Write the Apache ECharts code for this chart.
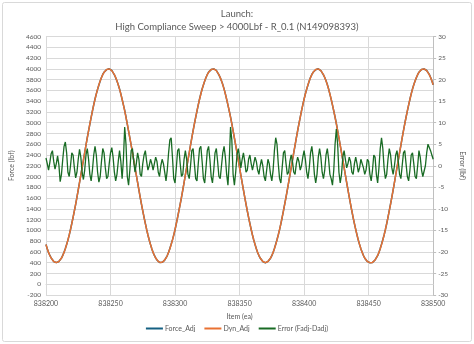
<!DOCTYPE html>
<html>
<head>
<meta charset="utf-8">
<script src="https://cdn.jsdelivr.net/npm/echarts@6/dist/echarts.min.js"></script>
<style>
  html, body { margin: 0; padding: 0; background: #ffffff; }
  #chart { width: 474px; height: 344px; }
</style>
</head>
<body>
<div id="chart"></div>
<script>
// Sample index starts at this item number; one sample per item.
const firstItem = 838200;

// Axis ticks
const xTicks = [838200, 838250, 838300, 838350, 838400, 838450, 838500];
const forceTicks = { min: -200, max: 4600, step: 200 };
const errorTicks = { min: -30, max: 30, step: 5 };

// Dyn_Adj (lbf), one value per item
const dynAdj = [
  736, 659, 591, 534, 486, 449, 422, 405,
  400, 405, 422, 449, 486, 534, 591, 659, 736, 821, 915, 1016, 1125, 1240, 1361, 1487, 1617, 1751, 1887, 2026, 2165, 2305, 2444, 2581, 2716, 2848, 2976, 3100, 3218, 3330, 3435, 3533, 3623, 3704, 3776, 3839, 3891, 3934, 3966, 3988, 3999,
  3999, 3988, 3966, 3934, 3891, 3839, 3776, 3704, 3623, 3533, 3435, 3330, 3218, 3100, 2976, 2848, 2716, 2581, 2444, 2305, 2165, 2026, 1887, 1751, 1617, 1487, 1361, 1240, 1125, 1016, 915, 821, 736, 659, 591, 534, 486, 449, 422, 405,
  400, 405, 422, 449, 486, 534, 591, 659, 736, 821, 915, 1016, 1125, 1240, 1361, 1487, 1617, 1751, 1887, 2026, 2165, 2305, 2444, 2581, 2716, 2848, 2976, 3100, 3218, 3330, 3435, 3533, 3623, 3704, 3776, 3839, 3891, 3934, 3966, 3988, 3999,
  3999, 3988, 3966, 3934, 3891, 3839, 3776, 3704, 3623, 3533, 3435, 3330, 3218, 3100, 2976, 2848, 2716, 2581, 2444, 2305, 2165, 2026, 1887, 1751, 1617, 1487, 1361, 1240, 1125, 1016, 915, 821, 736, 659, 591, 534, 486, 449, 422, 405,
  400, 405, 422, 449, 486, 534, 591, 659, 736, 821, 915, 1016, 1125, 1240, 1361, 1487, 1617, 1751, 1887, 2026, 2165, 2305, 2444, 2581, 2716, 2848, 2976, 3100, 3218, 3330, 3435, 3533, 3623, 3704, 3776, 3839, 3891, 3934, 3966, 3988, 3999,
  3999, 3988, 3966, 3934, 3891, 3839, 3776, 3704, 3623, 3533, 3435, 3330, 3218, 3100, 2976, 2848, 2716, 2581, 2444, 2305, 2165, 2026, 1887, 1751, 1617, 1487, 1361, 1240, 1125, 1016, 915, 821, 736, 659, 591, 534, 486, 449, 422, 405,
  401,
  400, 405, 422, 449, 486, 534, 591, 659, 736, 821, 915, 1016, 1125, 1240, 1361, 1487, 1617, 1751, 1887, 2026, 2165, 2305, 2444, 2581, 2716, 2848, 2976, 3100, 3218, 3330, 3435, 3533, 3623, 3704, 3776, 3839, 3891, 3934, 3966, 3988, 3999,
  3999, 3988, 3966, 3934, 3891, 3839, 3776, 3704
];

// Error (Fadj-Dadj) in lbf, one value per item
const errAdj = [
  1.8, 0.5, -1.0, 0.8, 2.8, 3.5, 1.0, -0.8, 0.5, 2.3,
  0.2, -3.7, -2.0, 1.5, 4.5, 5.5, 3.0, -1.5, -2.5, 0.0,
  3.0, 2.5, -0.5, -2.8, -1.5, 1.5, 3.8, 2.0, -1.5, -3.2,
  -1.0, 2.5, 4.0, 1.5, -2.0, -3.5, -1.0, 2.5, 4.5, 2.5,
  -1.5, -3.8, -2.5, 1.0, 4.0, 3.0, -0.5, -3.0, -2.5, 0.5,
  3.0, 4.2, 2.0, -1.5, -3.5, -2.0, 1.0, 3.5, 1.0, -3.0,
  1.5, 9.0, 5.0, -2.5, -4.5, -1.0, 3.5, 4.0, 1.0, -1.5,
  0.5, 3.0, 1.5, -2.0, -2.5, 0.5, 2.5, 3.5, 1.0, -1.0,
  0.0, 1.5, 0.5, -1.0, 0.5, 2.0, 1.0, -1.5, -2.5, 0.0,
  1.5, 0.5, -1.5, -3.5, -1.0, 3.0, 6.0, 6.5, 2.0, -3.0,
  -4.0, -0.5, 3.5, 4.0, 0.5, -2.5, -2.0, 1.5, 3.5, 1.5,
  -2.0, -3.0, 0.0, 3.5, 4.0, 0.5, -3.0, -3.5, 0.5, 4.0,
  4.5, 1.0, -3.0, -4.0, -0.5, 3.5, 4.5, 1.5, -2.5, -4.0,
  -1.0, 3.0, 4.0, 1.0, -2.5, -3.0, 0.0, 3.0, 4.5, 2.0,
  -2.0, -4.5, 1.0, 9.0, 6.0, -2.0, -4.5, -1.5, 2.5, 4.0,
  2.0, -0.5, 1.5, 3.0, 1.0, -1.5, -1.0, 1.5, 2.5, 0.5,
  -1.0, 0.5, 2.0, 1.0, -1.0, -2.0, 0.0, 1.5, 0.0, -2.5,
  -3.5, -1.0, 1.5, 0.5, -2.0, -3.5, -1.0, 3.5, 6.5, 5.0,
  0.5, -3.0, -4.0, -0.5, 3.0, 3.5, 0.5, -2.0, -1.5, 1.0,
  2.5, 1.0, -1.5, -2.0, 0.5, 2.0, 1.0, -1.0, 0.0, 2.0,
  3.5, 1.5, -1.5, -3.0, -0.5, 3.0, 4.5, 2.0, -2.0, -4.0,
  -2.0, 2.0, 4.0, 2.0, -1.5, -3.0, -1.0, 2.5, 4.0, 1.5,
  -2.0, -3.0, -4.5, -1.0, 5.0, 8.5, 5.0, -1.5, -4.0, -2.0,
  2.0, 3.5, 1.5, -0.5, 0.5, 2.0, 1.0, -1.5, -2.0, 0.5,
  2.0, 0.5, -1.5, -0.5, 1.5, 1.5, -0.5, -2.0, -1.0, 1.5,
  1.0, -2.0, -3.5, -1.0, 2.5, 2.0, -2.0, -4.0, -0.5, 4.0,
  6.5, 4.0, -0.5, -3.0, -2.0, 1.5, 4.0, 2.5, -0.5, -2.0,
  0.0, 2.5, 3.5, 1.0, -2.0, -3.0, 0.0, 3.0, 3.5, 0.5,
  -2.5, -3.5, -1.0, 2.5, 3.0, 0.5, -2.5, -3.0, 0.0, 3.5,
  2.0, -1.0, -2.5, -2.8, 0.0, 3.0, 5.0, 5.2, 3.5, 2.5,
  1.5
];

// Force_Adj follows from the chart's own definition: Error = Fadj - Dadj
const forceAdj = dynAdj.map((d, i) => d + errAdj[i]);

const toPairs = arr => arr.map((v, i) => [firstItem + i, v]);

const txt = '#595959';
const grid = '#d9d9d9';
const font = 'Lato, "Open Sans", "Liberation Sans", sans-serif';

const chart = echarts.init(document.getElementById('chart'), null, { renderer: 'canvas' });

chart.setOption({
  animation: false,
  backgroundColor: '#ffffff',
  textStyle: { fontFamily: font },
  title: {
    text: 'Launch:\nHigh Compliance Sweep > 4000Lbf - R_0.1 (N149098393)',
    left: 'center',
    top: 3,
    textStyle: { color: txt, fontSize: 9.5, fontWeight: 'normal', lineHeight: 12.5, fontFamily: font, align: 'center' }
  },
  graphic: [{
    type: 'rect',
    shape: { x: 2.5, y: 2.5, width: 469, height: 339, r: 2 },
    style: { fill: 'none', stroke: '#d9d9d9', lineWidth: 1 },
    silent: true
  }],
  legend: {
    bottom: 7,
    left: 'center',
    itemWidth: 17,
    itemHeight: 2,
    itemGap: 9,
    icon: 'rect',
    textStyle: { color: txt, fontSize: 7, fontFamily: font, padding: [0, 0, 0, -3] },
    data: ['Force_Adj', 'Dyn_Adj', 'Error (Fadj-Dadj)']
  },
  grid: { left: 38, right: 35, top: 36.5, bottom: 49 },
  xAxis: {
    type: 'value',
    min: xTicks[0],
    max: xTicks[xTicks.length - 1],
    interval: xTicks[1] - xTicks[0],
    name: 'Item (ea)',
    nameLocation: 'middle',
    nameGap: 18,
    nameTextStyle: { color: txt, fontSize: 7, fontFamily: font },
    axisLine: { show: true, lineStyle: { color: grid, width: 1 } },
    axisTick: { show: false },
    axisLabel: { color: txt, fontSize: 7, margin: 5, fontFamily: font, formatter: v => String(v) },
    splitLine: { show: true, lineStyle: { color: grid, width: 1 } }
  },
  yAxis: [{
    type: 'value',
    min: forceTicks.min,
    max: forceTicks.max,
    interval: forceTicks.step,
    name: 'Force (lbf)',
    nameLocation: 'middle',
    nameRotate: 90,
    nameGap: 21,
    nameTextStyle: { color: txt, fontSize: 7, fontFamily: font },
    axisLine: { show: true, lineStyle: { color: grid } },
    axisTick: { show: false },
    axisLabel: { color: txt, fontSize: 6.5, margin: 5, fontFamily: font, formatter: v => String(v) },
    splitLine: { show: true, lineStyle: { color: grid, width: 1 } }
  }, {
    type: 'value',
    min: errorTicks.min,
    max: errorTicks.max,
    interval: errorTicks.step,
    position: 'right',
    name: 'Error (lbf)',
    nameLocation: 'middle',
    nameRotate: -90,
    nameGap: 19,
    nameTextStyle: { color: txt, fontSize: 7, fontFamily: font },
    axisLine: { show: true, lineStyle: { color: '#bfbfbf' } },
    axisTick: { show: true, length: 3, inside: false, lineStyle: { color: '#bfbfbf' } },
    axisLabel: { color: txt, fontSize: 6.5, margin: 5, fontFamily: font },
    splitLine: { show: false }
  }],
  series: [{
    name: 'Force_Adj',
    type: 'line',
    yAxisIndex: 0,
    data: toPairs(forceAdj),
    showSymbol: false,
    color: '#156082',
    lineStyle: { width: 1.5, color: '#156082' }
  }, {
    name: 'Dyn_Adj',
    type: 'line',
    yAxisIndex: 0,
    data: toPairs(dynAdj),
    showSymbol: false,
    color: '#E97132',
    lineStyle: { width: 1.5, color: '#E97132' }
  }, {
    name: 'Error (Fadj-Dadj)',
    type: 'line',
    yAxisIndex: 1,
    data: toPairs(errAdj),
    showSymbol: false,
    color: '#196B24',
    lineStyle: { width: 1.3, color: '#196B24' }
  }]
});
</script>
</body>
</html>
